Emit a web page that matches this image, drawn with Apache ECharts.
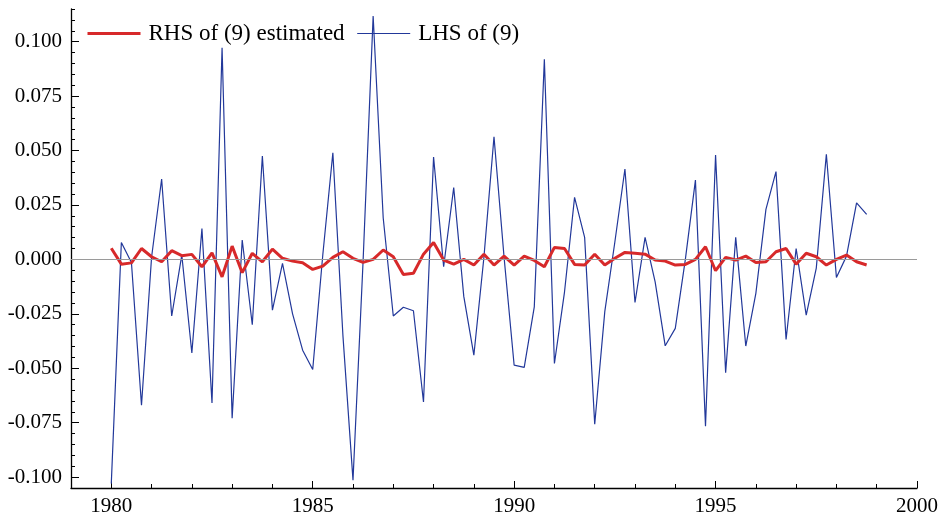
<!DOCTYPE html>
<html>
<head>
<meta charset="utf-8">
<script src="https://cdn.jsdelivr.net/npm/echarts@6/dist/echarts.min.js"></script>
<style>
html,body{margin:0;padding:0;background:#fff;}
#chart{width:941px;height:518px;}
</style>
</head>
<body>
<div id="chart"></div>
<script>
// Quarterly time points
const quarters = [
1980.00,1980.25,1980.50,1980.75,1981.00,1981.25,1981.50,1981.75,1982.00,1982.25,
1982.50,1982.75,1983.00,1983.25,1983.50,1983.75,1984.00,1984.25,1984.50,1984.75,
1985.00,1985.25,1985.50,1985.75,1986.00,1986.25,1986.50,1986.75,1987.00,1987.25,
1987.50,1987.75,1988.00,1988.25,1988.50,1988.75,1989.00,1989.25,1989.50,1989.75,
1990.00,1990.25,1990.50,1990.75,1991.00,1991.25,1991.50,1991.75,1992.00,1992.25,
1992.50,1992.75,1993.00,1993.25,1993.50,1993.75,1994.00,1994.25,1994.50,1994.75,
1995.00,1995.25,1995.50,1995.75,1996.00,1996.25,1996.50,1996.75,1997.00,1997.25,
1997.50,1997.75,1998.00,1998.25,1998.50,1998.75
];
// LHS of (9)
const lhsValues = [
-0.103, 0.0078, -0.0014, -0.067, 0.001, 0.0369, -0.026, 0.002, -0.043, 0.0142,
-0.066, 0.0972, -0.073, 0.0089, -0.030, 0.0475, -0.0233, -0.0018, -0.025, -0.0417,
-0.0506, 0.002, 0.049, -0.035, -0.1014, -0.001, 0.1118, 0.019, -0.026, -0.022,
-0.0236, -0.0655, 0.047, -0.0034, 0.033, -0.017, -0.044, 0.001, 0.0563, 0.001,
-0.0486, -0.0496, -0.0218, 0.0919, -0.0478, -0.015, 0.0285, 0.0101, -0.0757, -0.024,
0.008, 0.0415, -0.0198, 0.0101, -0.0103, -0.0397, -0.0317, 0.0, 0.0364, -0.0766,
0.0479, -0.0521, 0.0101, -0.0398, -0.0156, 0.023, 0.0403, -0.0368, 0.005, -0.0256,
-0.004, 0.0483, -0.0083, 0.0015, 0.026, 0.0207
];
// RHS of (9) estimated
const rhsValues = [
0.0051, -0.0022, -0.0016, 0.005, 0.0012, -0.0011, 0.004, 0.0017, 0.0023, -0.0034,
0.003, -0.008, 0.0061, -0.0061, 0.0028, -0.0011, 0.0047, 0.0005, -0.0008, -0.0015,
-0.0046, -0.0031, 0.0009, 0.0035, 0.0005, -0.0014, 0.0, 0.0043, 0.0012, -0.0069,
-0.0064, 0.0024, 0.0078, -0.0003, -0.0022, 0.0, -0.0026, 0.0024, -0.0026, 0.0015,
-0.0026, 0.0015, -0.0005, -0.0034, 0.0055, 0.005, -0.0023, -0.0026, 0.0024, -0.0026,
0.0005, 0.0032, 0.0028, 0.0024, -0.0003, -0.0008, -0.0026, -0.0023, 0.0, 0.0058,
-0.0052, 0.0009, -0.0003, 0.0015, -0.0014, -0.0011, 0.0035, 0.005, -0.0022, 0.0028,
0.0012, -0.0026, 0.0, 0.002, -0.0011, -0.0026
];
// Axis tick labels
const xTickLabels = [1980, 1985, 1990, 1995, 2000];
const xMinorTicks = [1979,1981,1982,1983,1984,1986,1987,1988,1989,1991,1992,1993,1994,1996,1997,1998,1999];
const yTickLabels = [-0.100, -0.075, -0.050, -0.025, 0.000, 0.025, 0.050, 0.075, 0.100];
const yMinorTicks = [
-0.105,-0.095,-0.090,-0.085,-0.080,-0.070,-0.065,-0.060,-0.055,-0.045,-0.040,-0.035,-0.030,
-0.020,-0.015,-0.010,-0.005,0.005,0.010,0.015,0.020,0.030,0.035,0.040,0.045,
0.055,0.060,0.065,0.070,0.080,0.085,0.090,0.095,0.105,0.110,0.115
];
const seriesNames = ['RHS of (9) estimated', 'LHS of (9)'];

const lhsData = quarters.map((q, i) => [q, lhsValues[i]]);
const rhsData = quarters.map((q, i) => [q, rhsValues[i]]);

const RED = '#d7292a';
const BLUE = '#22389a';
const FONT = 'Liberation Serif';
const chart = echarts.init(document.getElementById('chart'), null, {renderer: 'canvas'});
const gridRect = {left: 71, right: 24, top: 9, bottom: 30, containLabel: false};
const baseX = {
  type: 'value', min: 1979, max: 2000, position: 'bottom',
  splitLine: {show: false}
};
const baseY = {
  type: 'value', min: -0.105, max: 0.115, position: 'left',
  splitLine: {show: false}
};
chart.setOption({
  animation: false,
  backgroundColor: '#ffffff',
  grid: [Object.assign({}, gridRect), Object.assign({}, gridRect)],
  legend: {
    data: [
      {name: seriesNames[0], lineStyle: {color: RED, width: 3}},
      {name: seriesNames[1], lineStyle: {color: BLUE, width: 1.2}}
    ],
    left: 86, top: 22, padding: 0,
    itemWidth: 53, itemHeight: 14, itemGap: 12,
    itemStyle: {opacity: 0},
    textStyle: {fontFamily: FONT, fontSize: 23, color: '#000', padding: [0, 0, 0, 3]}
  },
  xAxis: [
    Object.assign({}, baseX, {
      gridIndex: 0,
      axisLine: {show: true, onZero: false, lineStyle: {color: '#000', width: 1.3}},
      axisTick: {show: true, inside: true, length: 7, customValues: xTickLabels, lineStyle: {color: '#000', width: 1}},
      axisLabel: {show: true, customValues: xTickLabels, margin: 8, fontFamily: FONT, fontSize: 21, color: '#000',
        formatter: v => String(Math.round(v))}
    }),
    Object.assign({}, baseX, {
      gridIndex: 1,
      axisLine: {show: false, onZero: false},
      axisTick: {show: true, inside: true, length: 4, customValues: xMinorTicks, lineStyle: {color: '#000', width: 1}},
      axisLabel: {show: false}
    })
  ],
  yAxis: [
    Object.assign({}, baseY, {
      gridIndex: 0,
      axisLine: {show: true, onZero: false, lineStyle: {color: '#000', width: 1.3}},
      axisTick: {show: true, inside: true, length: 8, customValues: yTickLabels, lineStyle: {color: '#000', width: 1}},
      axisLabel: {show: true, customValues: yTickLabels, margin: 9, fontFamily: FONT, fontSize: 21, color: '#000',
        formatter: v => v.toFixed(3)}
    }),
    Object.assign({}, baseY, {
      gridIndex: 1,
      axisLine: {show: false, onZero: false},
      axisTick: {show: true, inside: true, length: 4, customValues: yMinorTicks, lineStyle: {color: '#000', width: 1}},
      axisLabel: {show: false}
    })
  ],
  series: [
    {
      name: seriesNames[1], type: 'line', data: lhsData,
      xAxisIndex: 0, yAxisIndex: 0,
      symbol: 'none', showSymbol: false,
      lineStyle: {color: BLUE, width: 1.2},
      itemStyle: {color: BLUE},
      markLine: {
        silent: true, symbol: 'none', label: {show: false},
        lineStyle: {color: '#9a9a9a', width: 1, type: 'solid'},
        data: [{yAxis: 0}]
      },
      z: 2
    },
    {
      name: seriesNames[0], type: 'line', data: rhsData,
      xAxisIndex: 0, yAxisIndex: 0,
      symbol: 'none', showSymbol: false,
      lineStyle: {color: RED, width: 3},
      itemStyle: {color: RED},
      z: 3
    }
  ]
});
</script>
</body>
</html>
